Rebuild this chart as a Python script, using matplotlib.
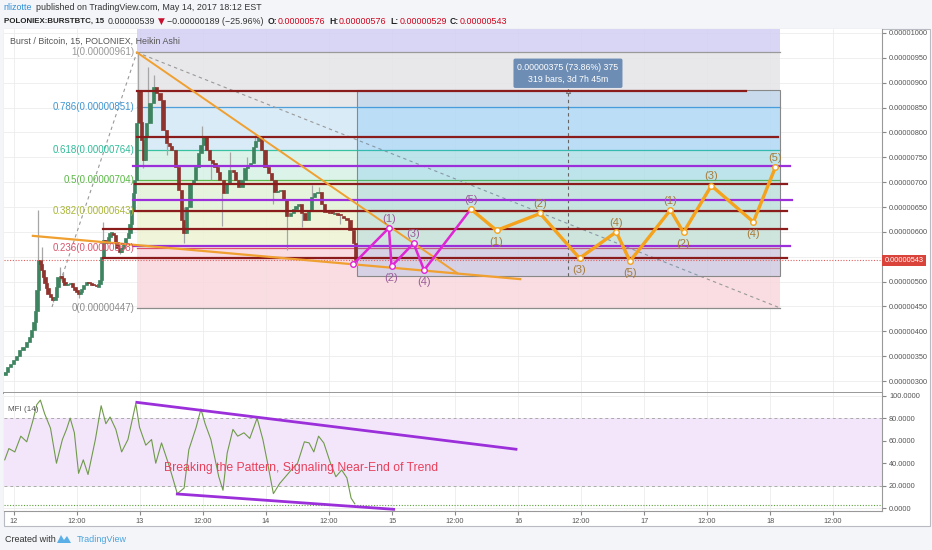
import numpy as np
import matplotlib.pyplot as plt
from matplotlib.patches import Rectangle, Polygon

plt.rcParams['font.family'] = ['Liberation Sans', 'DejaVu Sans']

# x = hours after May 12 00:00, prices in satoshi (1e-8 BTC)
ha_hours = [-1.7, -1.2, -0.6, -0.1, 0.5, 1.1, 1.7, 2.4, 2.9, 3.4, 3.8, 4.1, 4.4, 4.6, 5.0, 5.3, 5.6, 5.9,
            6.2, 6.5, 6.9, 7.4, 7.8, 8.1, 8.4, 8.8, 9.1, 9.4, 9.7, 10.2, 10.7, 11.1, 11.6, 12.0, 12.3,
            12.6, 12.9, 13.3, 13.8, 14.3, 14.8, 15.2, 15.7, 16.1, 16.4, 16.7, 17.0, 17.4, 17.7, 18.0,
            18.3, 18.6, 18.9, 19.3, 19.6, 20.2, 20.5, 20.8, 21.3, 21.8, 22.1, 22.4, 22.8, 23.0, 23.4,
            23.7, 24.0, 24.3, 24.6, 25.0, 25.3, 25.9, 26.5, 27.2, 27.8, 28.4, 29.1, 29.6, 30.0, 30.7,
            31.3, 31.9, 32.4, 32.9, 33.5, 34.2, 34.6, 35.1, 35.6, 36.1, 36.7, 37.3, 37.8, 38.3, 38.8,
            39.2, 39.9, 40.5, 41.1, 41.8, 42.2, 42.7, 43.4, 44.0, 44.5, 45.0, 45.6, 46.0, 46.5, 47.2,
            47.8, 48.4, 49.1, 49.7, 50.2, 50.7, 51.3, 51.9, 52.6, 53.2, 53.7, 54.2, 54.8, 55.4, 56.1,
            56.7, 57.3, 57.9, 58.6, 59.2, 59.7, 60.2, 60.6, 61.1, 61.6, 62.1, 62.7, 63.4, 64.0, 64.6, 65.1]
ha_close = [319, 328, 335, 342, 350, 362, 368, 379, 388, 403, 418, 440, 483, 543, 535, 523, 510, 497,
            488, 476, 470, 463, 470, 490, 510, 512, 507, 500, 493, 496, 497, 490, 483, 479, 476,
            480, 486, 494, 500, 497, 493, 491, 490, 495, 503, 550, 584, 580, 577, 590,
            597, 598, 594, 580, 567, 560, 568, 577, 588, 597, 615, 644, 678, 704, 818,
            885, 820, 785, 745, 790, 818, 859, 892, 879, 865, 805, 778, 772, 765, 731,
            684, 624, 597, 651, 698, 704, 730, 758, 775, 791, 765, 745, 738, 731, 720,
            704, 678, 698, 724, 721, 705, 691, 704, 728, 733, 738, 771, 782, 791, 765,
            731, 718, 704, 681, 683, 684, 665, 631, 637, 647, 652, 657, 637, 624, 644,
            671, 678, 681, 657, 640, 638, 637, 636, 637, 633, 631, 628, 624, 604, 577, 543]

wick_hours = [4.6, 5.3, 7.4, 8.8, 9.4, 12.3, 16.9, 20.2, 23.6, 24.5, 25.5, 26.7, 29.1, 32.4, 35.8,
              37.5, 39.7, 41.1, 44.3, 45.9, 49.4, 51.9, 54.8, 56.7, 58.0, 62.1]
wick_low = [483, 510, 458, 505, 493, 468, 550, 555, 818, 728, 818, 879, 755, 578, 775,
            704, 612, 721, 728, 771, 657, 564, 610, 671, 681, 615]
wick_high = [644, 570, 470, 530, 520, 480, 620, 568, 961, 790, 932, 916, 790, 651, 813,
             745, 678, 761, 751, 795, 704, 665, 637, 694, 691, 633]

mfi_hours = [-1.76, -0.97, 0.16, 1.30, 2.43, 3.56, 4.35, 5.03, 5.83, 6.96, 8.09, 9.22, 10.0, 10.7,
             11.5, 12.3, 13.2, 14.1, 15.5, 16.6, 17.5, 18.3, 19.4, 20.5, 21.7, 23.2, 23.9, 25.1,
             26.2, 27.0, 28.1, 29.6, 31.1, 32.4, 33.3, 34.7, 35.6, 36.4, 37.5, 39.0, 39.8, 40.6,
             41.7, 42.6, 43.8, 44.9, 46.3, 47.4, 48.3, 49.4, 50.6, 51.7, 52.8, 54.0, 55.3, 56.2,
             57.1, 58.0, 59.0, 60.2, 61.3, 62.4, 63.4, 64.2, 64.9]
mfi_values = [43, 53, 50, 64, 59, 77, 92, 96, 84, 71, 40, 61, 70, 80, 67, 31, 43, 30, 61, 91,
              75, 81, 70, 50, 61, 93, 72, 56, 61, 40, 58, 37, 13, 18, 52, 72, 88, 75, 61, 28,
              16, 49, 70, 64, 67, 62, 80, 61, 40, 13, 22, 28, 34, 40, 59, 58, 50, 64, 58, 41,
              28, 34, 27, 9, 4]

fib_ratios = ['0', '0.236', '0.382', '0.5', '0.618', '0.786', '1']
fib_prices = [447, 568, 643, 704, 764, 851, 961]
fib_line_colors = ['#8c8c8c', '#e0506e', '#b0bc3c', '#5cb84a', '#38c2a2', '#4f9fd8', '#9a9a9a']
fib_label_colors = ['#8c8c8c', '#d9546c', '#a9b535', '#5ab846', '#2fbb98', '#3f96d2', '#999999']
fib_fill_colors = ['#f8d8dd', '#eef4d4', '#e3f3d8', '#d6f1e6', '#d3e8f6', '#e5e5e8', '#d3cff4']

maroon_prices = [883, 791, 696, 642, 606, 548]
maroon_start = [23.4, 23.4, 23.0, 23.0, 17.0, 17.0]
maroon_end = [139.4, 145.5, 147.2, 147.2, 147.2, 147.2]
violet_prices = [733, 665, 572]
violet_start = [22.7, 22.7, 22.7]
violet_end = [147.8, 148.2, 147.8]

magenta_hours = [64.6, 71.4, 71.9, 76.1, 78.1, 87.0]
magenta_prices = [535, 608, 531, 577, 523, 646]
magenta_labels = ['', '(1)', '(2)', '(3)', '(4)', '(5)']
orange_hours = [87.0, 91.9, 100.2, 107.7, 114.7, 117.3, 125.0, 127.5, 132.8, 140.8, 145.0]
orange_prices = [646, 603, 637, 547, 600, 541, 644, 599, 693, 620, 730]
orange_labels = ['', '(1)', '(2)', '(3)', '(4)', '(5)', '(1)', '(2)', '(3)', '(4)', '(5)']

tick_hours = list(range(0, 157, 12))
tick_labels = ['12', '12:00', '13', '12:00', '14', '12:00', '15', '12:00', '16', '12:00',
               '17', '12:00', '18', '12:00']

last_price = 543
W, H = 932, 550


def box(x0, y0, x1, y1):
    return [x0 / W, 1 - y1 / H, (x1 - x0) / W, (y1 - y0) / H]


fig = plt.figure(figsize=(9.32, 5.5), dpi=100, facecolor='#f3f5f8')
fig.patches.append(Rectangle((4 / W, 1 - 526 / H), 926 / W, 497 / H, transform=fig.transFigure,
                             facecolor='white', edgecolor='#b8bcc2', lw=0.8, zorder=-5))

ax = fig.add_axes(box(4, 29, 882, 393))
axm = fig.add_axes(box(4, 393, 882, 511), sharex=ax)
xmin, xmax = -1.9, 165.3

# ---------- price panel ----------
ax.set_xlim(xmin, xmax)
ax.set_ylim(276, 1008)
ax.set_xticks(tick_hours)
price_ticks = list(range(300, 1001, 50))
ax.set_yticks(price_ticks)
ax.yaxis.tick_right()
# the 550 label sits under the last-price tag
ax.set_yticklabels(['' if v == 550 else f'{v / 1e8:.8f}' for v in price_ticks])
ax.tick_params(axis='y', labelsize=5.3, length=3, pad=2, colors='#888', labelcolor='#555')
ax.tick_params(axis='x', labelbottom=False, length=0)
ax.grid(color='#ececec', lw=0.6)
ax.set_axisbelow(True)
for s in ['left', 'top']:
    ax.spines[s].set_visible(False)
ax.spines['right'].set_color('#999')
ax.spines['bottom'].set_color('#999')
ax.spines['bottom'].set_linewidth(1.4)

fx0, fx1 = 23.4, 145.9
bands = fib_prices + [1008]
for i in range(len(fib_fill_colors)):
    ax.fill_between([fx0, fx1], bands[i], bands[i + 1], color=fib_fill_colors[i], alpha=0.85, lw=0, zorder=0.6)
for r, p, lc, tc in zip(fib_ratios, fib_prices, fib_line_colors, fib_label_colors):
    ax.plot([fx0, fx1], [p, p], color=lc, lw=0.9, zorder=1)
    ax.text(22.9, p, f'{r}({p / 1e8:.8f})', ha='right', va='center', fontsize=7, color=tc, zorder=6)

# dashed fib diagonals
ax.plot([7.24, 23.4], [449, 961], color='#999', lw=0.8, ls=(0, (3, 3)), zorder=1.2)
ax.plot([23.4, 145.9], [961, 447], color='#999', lw=0.8, ls=(0, (3, 3)), zorder=1.2)

# date & price range box
ax.add_patch(Rectangle((65.3, 511), 145.9 - 65.3, 886 - 511, facecolor='#2196f3', alpha=0.16,
                       edgecolor='none', zorder=1.4))
ax.add_patch(Rectangle((65.3, 511), 145.9 - 65.3, 886 - 511, facecolor='none',
                       edgecolor='#888', lw=0.8, zorder=1.5))
ax.plot([105.5, 105.5], [511, 884], color='#666', lw=0.8, ls=(0, (3, 3)), zorder=1.6)
ax.plot([105.5], [883], marker='^', ms=3, mfc='none', mec='#666', mew=0.6, zorder=1.6)
ax.text(105.5, 919, '0.00000375 (73.86%) 375\n319 bars, 3d 7h 45m', ha='center', va='center',
        color='white', fontsize=6.3, linespacing=1.5, zorder=7,
        bbox=dict(boxstyle='round,pad=0.45,rounding_size=0.2', fc='#6d8db4', ec='none'))

# candles (heikin ashi style: open at previous close)
ha_open = [ha_close[0] - 7] + ha_close[:-1]
ax.vlines(wick_hours, wick_low, wick_high, color='#a6a6a6', lw=0.9, zorder=2)
cols = ['#3f8460' if c >= o else '#8e332d' for o, c in zip(ha_open, ha_close)]
heights = [c - o if abs(c - o) > 2 else 2 for o, c in zip(ha_open, ha_close)]
ax.bar(ha_hours, heights, bottom=ha_open, width=0.62, color=cols, edgecolor=cols, lw=0.5, zorder=2.5)

# horizontal levels
for p, a, b in zip(maroon_prices, maroon_start, maroon_end):
    ax.plot([a, b], [p, p], color='#8b1c1c', lw=1.6, zorder=3)
for p, a, b in zip(violet_prices, violet_start, violet_end):
    ax.plot([a, b], [p, p], color='#9b2fd9', lw=1.6, zorder=3)

# orange trend lines
ax.plot([23.4, 84.4], [961, 517], color='#f0a030', lw=1.4, zorder=3.2)
ax.plot([3.6, 96.4], [592, 505], color='#f0a030', lw=1.6, zorder=3.2)

# last price line
ax.axhline(last_price, color='#e06060', lw=0.8, ls=(0, (1, 1.5)), zorder=3.1)
ax.text(1.003, last_price, f'{last_price / 1e8:.8f}', transform=ax.get_yaxis_transform(),
        ha='left', va='center', fontsize=5.3, color='white', zorder=8, clip_on=False,
        bbox=dict(boxstyle='square,pad=0.3', fc='#d9433a', ec='none'))

# elliott waves
ax.plot(magenta_hours, magenta_prices, color='#e025d5', lw=1.8, zorder=4)
ax.plot(orange_hours, orange_prices, color='#f5a21c', lw=2.4, zorder=4)
ax.plot(magenta_hours[:-1], magenta_prices[:-1], 'o', ms=4, mfc='white', mec='#e025d5', mew=1, zorder=5)
ax.plot(orange_hours, orange_prices, 'o', ms=4, mfc='white', mec='#f5a21c', mew=1, zorder=5)
for i, (h, p, t) in enumerate(zip(magenta_hours, magenta_prices, magenta_labels)):
    if not t:
        continue
    up = p >= magenta_prices[i - 1]
    ax.annotate(t, (h, p), xytext=(0, 3 if up else -5), textcoords='offset points', ha='center',
                va='bottom' if up else 'top', fontsize=8, color='#9a5c9a', zorder=6)
for i, (h, p, t) in enumerate(zip(orange_hours, orange_prices, orange_labels)):
    if not t:
        continue
    up = p >= orange_prices[i - 1]
    ax.annotate(t, (h, p), xytext=(0, 3 if up else -5), textcoords='offset points', ha='center',
                va='bottom' if up else 'top', fontsize=8, color='#a67c3c', zorder=6)

ax.text(0.007, 0.965, 'Burst / Bitcoin, 15, POLONIEX, Heikin Ashi', transform=ax.transAxes,
        fontsize=6.4, color='#555', va='center', zorder=8)

# ---------- MFI panel ----------
axm.set_ylim(-2.4, 102.3)
axm.set_xticks(tick_hours)
axm.set_xticklabels(tick_labels)
axm.set_yticks([0, 20, 40, 60, 80, 100])
axm.set_yticklabels(['0.0000', '20.0000', '40.0000', '60.0000', '80.0000', '100.0000'])
axm.yaxis.tick_right()
axm.tick_params(axis='y', labelsize=5.3, length=3, pad=2, colors='#888', labelcolor='#555')
axm.tick_params(axis='x', labelsize=5.3, length=3, pad=2, colors='#888', labelcolor='#555')
axm.grid(color='#ececec', lw=0.6)
axm.set_axisbelow(True)
for s in ['left', 'top']:
    axm.spines[s].set_visible(False)
axm.spines['right'].set_color('#999')
axm.spines['bottom'].set_color('#999')
axm.axhspan(20, 80, color='#f3e6fb', lw=0, zorder=0.6)
axm.axhline(80, color='#aaa', lw=0.7, ls=(0, (3, 3)), zorder=1)
axm.axhline(20, color='#aaa', lw=0.7, ls=(0, (3, 3)), zorder=1)
axm.axhline(mfi_values[-1] - 0.7, color='#5aa03c', lw=0.8, ls=(0, (1, 1.5)), zorder=1)
axm.plot(mfi_hours, mfi_values, color='#6f9a4a', lw=0.8, zorder=2)
axm.plot([23.4, 95.6], [94, 52.4], color='#9b2fd9', lw=2, zorder=3)
axm.plot([31.1, 72.3], [12.7, -0.9], color='#9b2fd9', lw=2, zorder=3)
axm.text(28.5, 36, 'Breaking the Pattern, Signaling Near-End of Trend', fontsize=8.8,
         color='#e8405a', va='center', ha='left', zorder=4)
axm.text(0.005, 0.86, 'MFI (14)', transform=axm.transAxes, fontsize=5.8, color='#555', va='center')

# ---------- header / footer ----------
def ftext(x, y, s, **kw):
    fig.text(x / W, 1 - y / H, s, va='center', ha='left', **kw)


ftext(3, 8, 'nlizotte', fontsize=6.4, color='#2f8fd8')
ftext(36, 8, 'published on TradingView.com, May 14, 2017 18:12 EST', fontsize=6.4, color='#333')
ftext(4, 21, 'POLONIEX:BURSTBTC, 15', fontsize=5.7, color='#222', fontweight='bold')
ftext(108, 21, '0.00000539', fontsize=6.4, color='#333')
ftext(158, 21, '\u25bc', fontsize=6.4, color='#c8102e', family='DejaVu Sans')
ftext(167, 21, '\u22120.00000189 (\u221225.96%)', fontsize=6.4, color='#333')
for lab, x0, val in [('O:', 268, '0.00000576'), ('H:', 329, '0.00000576'),
                     ('L:', 390, '0.00000529'), ('C:', 450, '0.00000543')]:
    ftext(x0, 21, lab, fontsize=6.2, color='#222', fontweight='bold')
    ftext(x0 + 10, 21, val, fontsize=6.4, color='#d0021b')

ftext(5, 540, 'Created with', fontsize=6.5, color='#333')
fig.patches.append(Polygon([[57 / W, 1 - 543 / H], [61 / W, 1 - 535 / H], [64 / W, 1 - 540 / H],
                            [67 / W, 1 - 536 / H], [71 / W, 1 - 543 / H]], closed=True,
                           transform=fig.transFigure, facecolor='#5ab0e6', edgecolor='none'))
ftext(77, 540, 'TradingView', fontsize=6.5, color='#4aa3df')

fig.savefig('out.png', dpi=100, facecolor=fig.get_facecolor())
